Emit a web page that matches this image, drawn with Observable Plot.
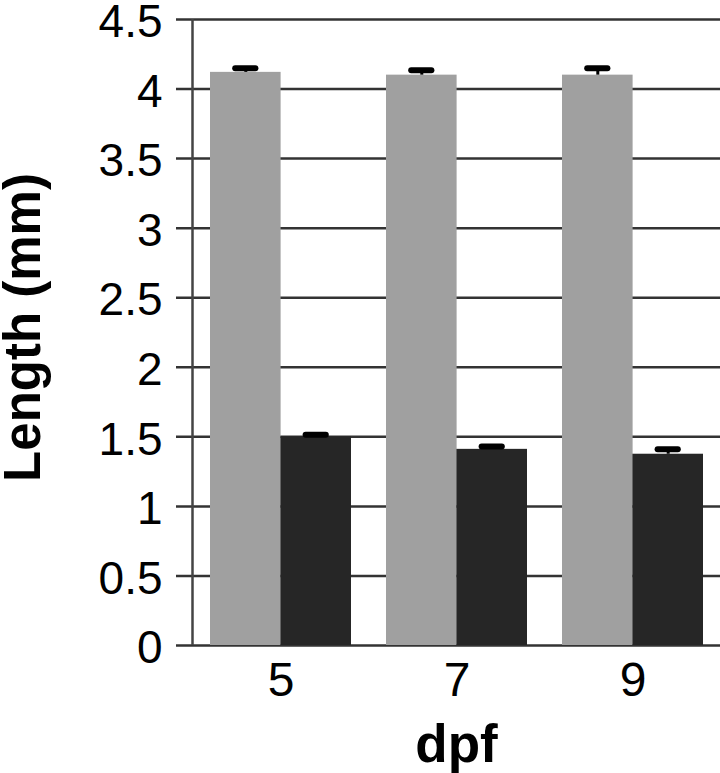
<!DOCTYPE html>
<html>
<head>
<meta charset="utf-8">
<script src="https://cdn.jsdelivr.net/npm/d3@7"></script>
<script src="https://cdn.jsdelivr.net/npm/@observablehq/plot@0.6"></script>
<style>
  html, body { margin: 0; padding: 0; background: #fff; }
  #chart svg { display: block; overflow: visible; }
  #chart g[aria-label^="x-axis"] text { font-size: 48px; fill: #000; }
</style>
</head>
<body>
<div id="chart"></div>
<script>
// ---- data ----
const dpf = ["5", "7", "9"];
const lightMean = [4.12, 4.10, 4.10];   // light grey bars
const lightErr  = [0.03, 0.035, 0.05];
const darkMean  = [1.50, 1.41, 1.375];  // dark bars
const darkErr   = [0.015, 0.02, 0.035];
const yTicks = [0, 0.5, 1, 1.5, 2, 2.5, 3, 3.5, 4, 4.5];
const yTickLabels = ["0", "0.5", "1", "1.5", "2", "2.5", "3", "3.5", "4", "4.5"];
const xLabel = "dpf";
const yLabel = "Length (mm)";

const rows = dpf.map((d, i) => ({
  dpf: d,
  light: lightMean[i], lightTop: lightMean[i] + lightErr[i],
  dark: darkMean[i], darkTop: darkMean[i] + darkErr[i]
}));
const yTickRows = yTicks.map((v, i) => ({ v, label: yTickLabels[i] }));

// ---- layout ----
const W = 720, H = 773;
const mL = 192, mR = 0, mT = 19, mB = 128;
const pIn = 0.2, pOut = 0.1;
const plotW = W - mL - mR;
const step = plotW / (dpf.length - pIn + 2 * pOut);
const bw = step * (1 - pIn);   // band width of each dpf group
const half = bw / 2;
const capHalf = 10;
const capL = half / 2 - capHalf, capR = bw - half / 2 - capHalf;

const chart = Plot.plot({
  width: W, height: H,
  marginLeft: mL, marginRight: mR, marginTop: mT, marginBottom: mB,
  style: { fontFamily: "'Liberation Sans', Arial, Helvetica, sans-serif", background: "#fff", color: "#000" },
  x: { domain: dpf, paddingInner: pIn, paddingOuter: pOut, tickSize: 0, tickPadding: 16, label: null },
  y: { domain: [0, 4.5], axis: null },
  marks: [
    Plot.ruleY(yTicks, { stroke: "#333", strokeWidth: 2.5, insetLeft: -16 }),
    Plot.ruleX([null], { x: null, y1: 0, y2: 4.5, stroke: "#444", strokeWidth: 2.5, dx: -plotW / 2 }),
    Plot.text(yTickRows, { y: "v", text: "label", frameAnchor: "left", textAnchor: "end", lineAnchor: "middle",
      dx: -30, dy: 3, fontSize: 46, fill: "#000" }),
    Plot.barY(rows, { x: "dpf", y: "light", fill: "#a0a0a0", insetRight: half }),
    Plot.barY(rows, { x: "dpf", y: "dark", fill: "#262626", insetLeft: half }),
    Plot.ruleX(rows, { x: "dpf", y1: "light", y2: "lightTop", stroke: "#000", strokeWidth: 3, dx: -half / 2 }),
    Plot.ruleX(rows, { x: "dpf", y1: "dark", y2: "darkTop", stroke: "#000", strokeWidth: 3, dx: half / 2 }),
    Plot.tickY(rows, { x: "dpf", y: "lightTop", stroke: "#000", strokeWidth: 6, strokeLinecap: "round", insetLeft: capL, insetRight: capR }),
    Plot.tickY(rows, { x: "dpf", y: "darkTop", stroke: "#000", strokeWidth: 6, strokeLinecap: "round", insetLeft: capR, insetRight: capL }),
    Plot.text([xLabel], { frameAnchor: "bottom", textAnchor: "middle", lineAnchor: "middle", dy: 100,
      fontSize: 53, fontWeight: "bold", fill: "#000" }),
    Plot.text([yLabel], { frameAnchor: "left", textAnchor: "middle", lineAnchor: "middle", rotate: -90,
      dx: -169, dy: -5, fontSize: 51, fontWeight: "bold", fill: "#000" })
  ]
});
document.getElementById("chart").appendChild(chart);
</script>
</body>
</html>
